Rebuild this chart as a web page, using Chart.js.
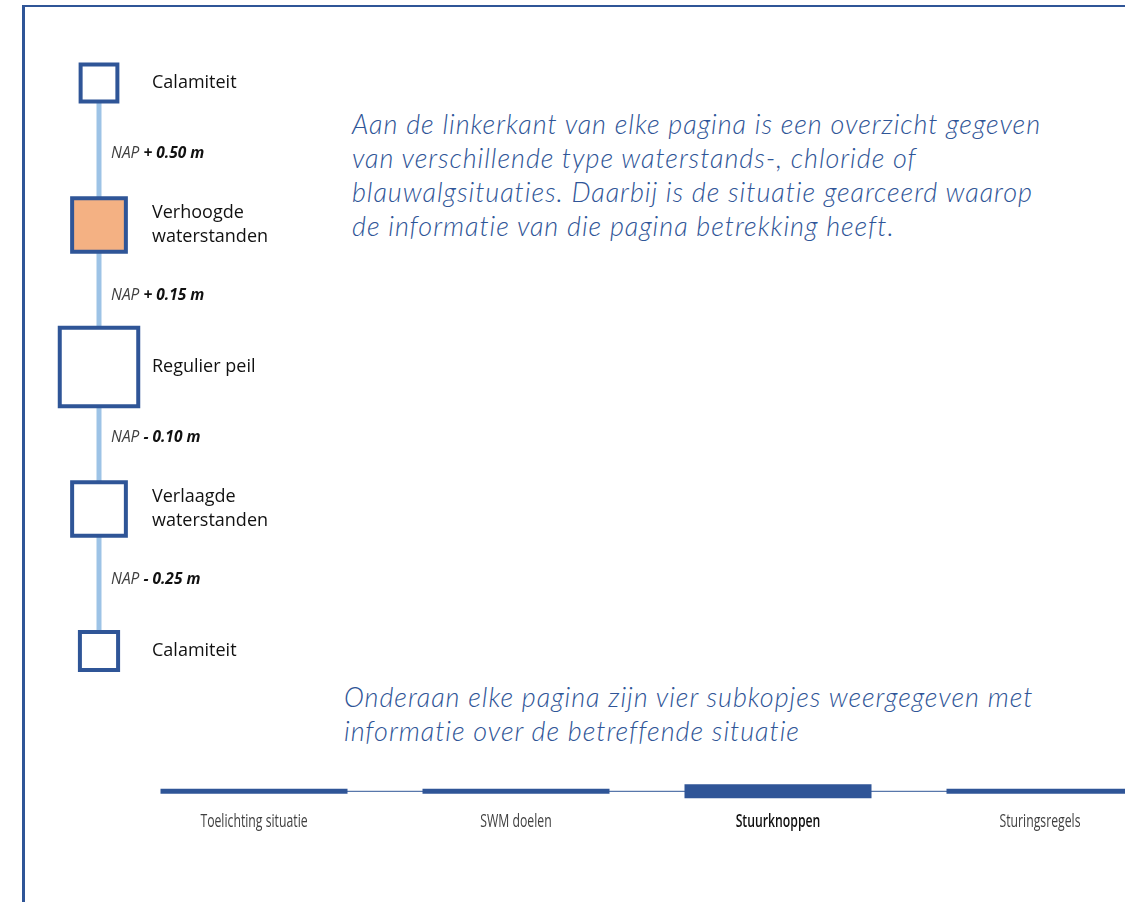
<!DOCTYPE html>
<html>
<head>
<meta charset="utf-8">
<script src="https://cdn.jsdelivr.net/npm/chart.js@4"></script>
<style>
  html, body { margin: 0; padding: 0; background: #fff; }
  body { width: 1125px; height: 902px; overflow: hidden; position: relative; }
  .frame { position: absolute; left: 22px; top: 5px; width: 1200px; height: 1000px;
           border-left: 3px solid #2f5597; border-top: 2px solid #2f5597; }
  .note { position: absolute; font-family: Lato, "Open Sans", sans-serif; font-style: italic;
          font-weight: 300; font-size: 27px; letter-spacing: 0.95px; line-height: 34px;
          color: #2f5597; white-space: nowrap; }
  canvas { position: absolute; }
</style>
</head>
<body>
<div class="frame"></div>
<div class="note" id="note1" style="left:352px; top:107px;"></div>
<div class="note" id="note2" style="left:344px; top:680px;"></div>
<canvas id="levels" width="330" height="902" style="left:-8px; top:0;"></canvas>
<canvas id="tabs" width="1048" height="90" style="left:123px; top:764px;"></canvas>
<script>
/* ============ Data ============ */
const levels = [["Calamiteit"], ["Verhoogde", "waterstanden"], ["Regulier peil"], ["Verlaagde", "waterstanden"], ["Calamiteit"]];
const activeLevel = 1; // "Verhoogde waterstanden" is the shaded one
const thresholds = ["+ 0.50 m", "+ 0.15 m", "- 0.10 m", "- 0.25 m"];
const tabs = ["Toelichting situatie", "SWM doelen", "Stuurknoppen", "Sturingsregels"];
const activeTab = "Stuurknoppen";
const noteTop = [
    "Aan de linkerkant van elke pagina is een overzicht gegeven",
    "van verschillende type waterstands-, chloride of",
    "blauwalgsituaties. Daarbij is de situatie gearceerd waarop",
    "de informatie van die pagina betrekking heeft."
];
const noteBottom = [
    "Onderaan elke pagina zijn vier subkopjes weergegeven met",
    "informatie over de betreffende situatie"
];

/* ============ Style ============ */
const BLUE = "#2f5597";
const LINE_BLUE = "#9dc3e6";
const ORANGE = "#f4b183";
const BOX_R = [26, 38, 55.5, 38, 27];
const FONT = "'Open Sans', 'Noto Sans', sans-serif";
const TAB_SQUEEZE = 0.68; // tab labels are set in a condensed face

document.getElementById("note1").innerHTML = noteTop.join("<br>");
document.getElementById("note2").innerHTML = noteBottom.join("<br>");

/* NAP labels between the levels */
const napLabels = {
    id: "napLabels",
    afterDatasetsDraw(chart) {
        const {ctx, chartArea} = chart;
        const y = chart.scales.y;
        ctx.save();
        ctx.textBaseline = "middle";
        thresholds.forEach((t, i) => {
            const py = y.getPixelForValue(i + 0.5);
            const px = chartArea.left + 12;
            ctx.font = `italic 400 15.5px ${FONT}`;
            ctx.fillStyle = "#404040";
            ctx.fillText("NAP ", px, py);
            const w = ctx.measureText("NAP ").width;
            ctx.font = `italic 700 15.5px ${FONT}`;
            ctx.fillStyle = "#111";
            ctx.fillText(t, px + w, py);
        });
        ctx.restore();
    }
};

/* condensed tab labels, placed at the x-scale tick positions */
const tabLabels = {
    id: "tabLabels",
    afterDraw(chart) {
        const {ctx} = chart;
        const x = chart.scales.x;
        ctx.save();
        ctx.textAlign = "center";
        ctx.textBaseline = "middle";
        tabs.forEach((t, i) => {
            const active = t === activeTab;
            ctx.save();
            ctx.translate(x.getPixelForTick(i), x.top + 13);
            ctx.scale(TAB_SQUEEZE, 1);
            ctx.font = `${active ? 600 : 400} 18px ${FONT}`;
            ctx.fillStyle = active ? "#111" : "#404040";
            ctx.fillText(t, 0, 0);
            ctx.restore();
        });
        ctx.restore();
    }
};

/* ============ Level ladder ============ */
new Chart(document.getElementById("levels"), {
    type: "scatter",
    data: {
        datasets: [{
            data: levels.map((l, i) => ({x: 0, y: i})),
            showLine: true,
            borderColor: LINE_BLUE,
            borderWidth: 5,
            pointStyle: "rect",
            pointRadius: BOX_R,
            pointBorderWidth: 4,
            pointBorderColor: BLUE,
            pointBackgroundColor: levels.map((l, i) => i === activeLevel ? ORANGE : "#fff"),
            clip: false
        }]
    },
    options: {
        responsive: false,
        animation: false,
        events: [],
        layout: {padding: {top: 83, bottom: 251, left: 1, right: 0}},
        plugins: {legend: {display: false}, tooltip: {enabled: false}},
        scales: {
            x: {type: "linear", min: 0, max: 1, display: false},
            y: {
                type: "linear", min: 0, max: 4, reverse: true,
                grid: {display: false, drawTicks: false},
                border: {display: false},
                ticks: {
                    mirror: true, padding: 53, stepSize: 1,
                    color: "#111",
                    font: {family: FONT, size: 18, lineHeight: 1.3},
                    callback: v => Number.isInteger(v) ? levels[v] : ""
                }
            }
        }
    },
    plugins: [napLabels]
});

/* ============ Sub-heading tabs ============ */
new Chart(document.getElementById("tabs"), {
    type: "line",
    data: {
        labels: tabs,
        datasets: [{
            data: tabs.map(() => 0),
            borderColor: BLUE,
            borderWidth: 1,
            pointStyle: "line",
            pointRadius: 93.5,
            pointBorderColor: BLUE,
            pointBorderWidth: tabs.map(t => t === activeTab ? 14 : 5),
            clip: false
        }]
    },
    options: {
        responsive: false,
        animation: false,
        events: [],
        layout: {autoPadding: false, padding: {top: 10, bottom: 21, left: 0, right: 0}},
        plugins: {legend: {display: false}, tooltip: {enabled: false}},
        scales: {
            x: {
                offset: true,
                grid: {display: false, drawTicks: false},
                border: {display: false},
                ticks: {padding: 2, maxRotation: 0, color: "rgba(0,0,0,0)", font: {family: FONT, size: 17}}
            },
            y: {display: false, min: -1, max: 1}
        }
    },
    plugins: [tabLabels]
});
</script>
</body>
</html>
